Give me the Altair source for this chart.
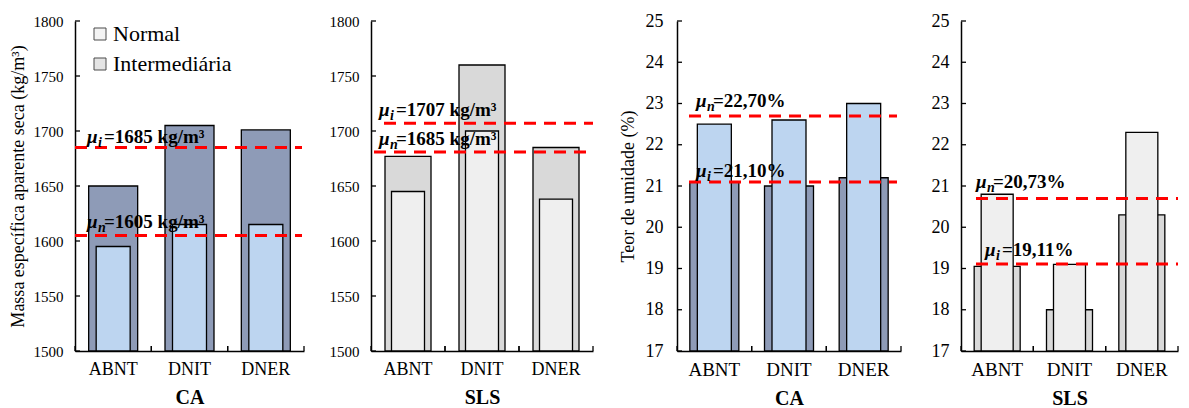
import altair as alt
import pandas as pd

FONT = "Liberation Serif"

# ---------------- data ----------------
categories = ["ABNT", "DNIT", "DNER"]
series = ["Normal", "Intermediária"]

ca_mass_normal = [1595, 1615, 1615]
ca_mass_inter = [1650, 1705, 1701]
sls_mass_normal = [1645, 1700, 1638]
sls_mass_inter = [1677, 1760, 1685]

ca_moist_normal = [22.5, 22.6, 23.0]
ca_moist_inter = [21.1, 21.0, 21.2]
sls_moist_normal = [20.8, 19.1, 22.3]
sls_moist_inter = [19.05, 18.0, 20.3]

mass_ticks = [1500, 1550, 1600, 1650, 1700, 1750, 1800]
moist_ticks = [17, 18, 19, 20, 21, 22, 23, 24, 25]

# mean lines: (subscript, label text, line value)
ca_mass_means = [("i", "=1685 kg/m³", 1685), ("n", "=1605 kg/m³", 1605)]
sls_mass_means = [("i", "=1707 kg/m³", 1707), ("n", "=1685 kg/m³", 1681)]
ca_moist_means = [("n", "=22,70%", 22.7), ("i", "=21,10%", 21.1)]
sls_moist_means = [("n", "=20,73%", 20.7), ("i", "=19,11%", 19.11)]

# ---------------- styles ----------------
BLUE_NORMAL = "#bdd5f0"
SLATE_INTER = "#8e9bb7"
GRAY_NORMAL = "#efefef"
GRAY_INTER = "#d9d9d9"
LEGEND_COLORS = ["#eeeeee", "#d9d9d9"]


def annotation(sub, rest, v, x_px, dy, yscale, yaxis):
    d = pd.DataFrame({"v": [v], "mu": ["μ"], "sub": [sub], "rest": [rest]})
    base = alt.Chart(d).encode(y=alt.Y("v:Q", scale=yscale, axis=yaxis))
    mu = base.mark_text(align="left", baseline="alphabetic", dy=dy, font=FONT,
                        fontSize=19, fontWeight="bold", fontStyle="italic",
                        color="black").encode(x=alt.value(x_px), text="mu:N")
    sb = base.mark_text(align="left", baseline="alphabetic", dy=dy + 4, font=FONT,
                        fontSize=14, fontWeight="bold", fontStyle="italic",
                        color="black").encode(x=alt.value(x_px + 11), text="sub:N")
    rs = base.mark_text(align="left", baseline="alphabetic", dy=dy, font=FONT,
                        fontSize=19, fontWeight="bold",
                        color="black").encode(x=alt.value(x_px + 17), text="rest:N")
    return [mu, sb, rs]


def panel(normal, inter, means, ann_layout, ydomain, yticks, yfmt,
          wide_fill, narrow_fill, w, h, wide_size, narrow_size,
          xtitle, ytitle, tick_fs, xlabel_fs, ytitle_fs, ytitle_pad, ylabel_pad,
          legend=False):
    df = pd.DataFrame({"Método": categories, "Normal": normal, "Intermediária": inter})
    xscale = alt.Scale(paddingInner=0, paddingOuter=0)
    xaxis = alt.Axis(title=xtitle, labelAngle=0, labelFontSize=xlabel_fs,
                     titleFontSize=20, titleFontWeight="bold", ticks=False, tickSize=0,
                     labelPadding=9, titlePadding=9)

    def xenc(bp=None):
        if bp is None:
            return alt.X("Método:N", sort=categories, scale=xscale, axis=xaxis)
        return alt.X("Método:N", sort=categories, scale=xscale, axis=xaxis, bandPosition=bp)

    yscale = alt.Scale(domain=ydomain, nice=False, zero=False)
    yaxis = alt.Axis(title=ytitle, values=yticks, format=yfmt, labelFontSize=tick_fs,
                     titleFontSize=ytitle_fs, titleFontWeight="normal",
                     titlePadding=ytitle_pad, labelPadding=ylabel_pad,
                     ticks=False, tickSize=0)
    base = alt.Chart(df)
    wide = base.mark_bar(size=wide_size, fill=wide_fill, stroke="black",
                         strokeWidth=1.3).encode(
        x=xenc(), y=alt.Y("Intermediária:Q", scale=yscale, axis=yaxis),
        y2=alt.datum(ydomain[0]))
    narrow = base.mark_bar(size=narrow_size, fill=narrow_fill, stroke="black",
                           strokeWidth=1.3).encode(
        x=xenc(), y=alt.Y("Normal:Q", scale=yscale, axis=yaxis),
        y2=alt.datum(ydomain[0]))
    layers = [wide, narrow]
    # inward tick marks
    for bp in (0, 1):
        layers.append(base.mark_rule(color="black", strokeWidth=1.3).encode(
            x=xenc(bp), y=alt.value(h), y2=alt.value(h - 5)))
    tdf = pd.DataFrame({"t": yticks})
    layers.append(alt.Chart(tdf).mark_rule(color="black", strokeWidth=1.3).encode(
        y=alt.Y("t:Q", scale=yscale, axis=yaxis), x=alt.value(0), x2=alt.value(5)))
    for (sub, rest, v), (x0, x1, ax, dy) in zip(means, ann_layout):
        rd = pd.DataFrame({"v": [v]})
        rule = alt.Chart(rd).mark_rule(color="#ff0000", strokeWidth=3,
                                       strokeDash=[12, 8]).encode(
            y=alt.Y("v:Q", scale=yscale, axis=yaxis),
            x=alt.value(x0), x2=alt.value(x1))
        layers.append(rule)
    for (sub, rest, v), (x0, x1, ax, dy) in zip(means, ann_layout):
        layers += annotation(sub, rest, v, ax, dy, yscale, yaxis)
    if legend:
        leg = alt.Chart(pd.DataFrame({"Série": series})).transform_filter("false").mark_square(
            filled=True, stroke="black", strokeWidth=1).encode(
            color=alt.Color("Série:N",
                            scale=alt.Scale(domain=series, range=LEGEND_COLORS),
                            legend=alt.Legend(title=None, orient="none", legendX=14, legendY=2,
                                              padding=0,
                                              symbolType="square", symbolSize=144,
                                              symbolStrokeColor="black", symbolStrokeWidth=1,
                                              labelFont=FONT, labelFontSize=22,
                                              labelColor="black", labelOffset=2,
                                              rowPadding=8)))
        layers.append(leg)
    return alt.layer(*layers).properties(width=w, height=h)


p1 = panel(ca_mass_normal, ca_mass_inter, ca_mass_means,
           [(0, 227, 12, -5), (0, 227, 12, -8)],
           [1500, 1800], mass_ticks, "d", SLATE_INTER, BLUE_NORMAL,
           229, 330, 49, 34, "CA", "Massa específica aparente seca (kg/m³)",
           15, 18, 18, 6, 12, legend=True)
p2 = panel(sls_mass_normal, sls_mass_inter, sls_mass_means,
           [(13, 222, 8, -7), (3, 222, 8, -7)],
           [1500, 1800], mass_ticks, "d", GRAY_INTER, GRAY_NORMAL,
           222, 330, 46, 33, "SLS", None,
           15, 18, 18, 6, 12)
p3 = panel(ca_moist_normal, ca_moist_inter, ca_moist_means,
           [(12, 220, 19, -9), (12, 220, 19, -5)],
           [17, 25], moist_ticks, "d", SLATE_INTER, BLUE_NORMAL,
           224, 330, 49, 34, "CA", "Teor de umidade (%)",
           18, 19, 18, 8, 14)
p4 = panel(sls_moist_normal, sls_moist_inter, sls_moist_means,
           [(15, 217, 15, -10), (15, 217, 24, -8)],
           [17, 25], moist_ticks, "d", GRAY_INTER, GRAY_NORMAL,
           217, 330, 46, 32, "SLS", None,
           18, 19, 18, 8, 12)

left = alt.hconcat(p1, p2, p3, spacing=24).resolve_scale(
    x="independent", y="independent", color="independent"
).resolve_legend(color="independent")

chart = alt.hconcat(left, p4, spacing=29).resolve_scale(
    x="independent", y="independent", color="independent"
).resolve_legend(color="independent").properties(
    padding={"left": 9, "top": 12, "right": 0, "bottom": 0}
).configure_view(stroke=None).configure_axis(
    grid=False, domainColor="black", domainWidth=1.5, tickColor="black", tickWidth=1.5,
    labelColor="black", titleColor="black", labelFont=FONT, titleFont=FONT
)

chart.save("out.html", embed_options={"renderer": "svg", "actions": False})
